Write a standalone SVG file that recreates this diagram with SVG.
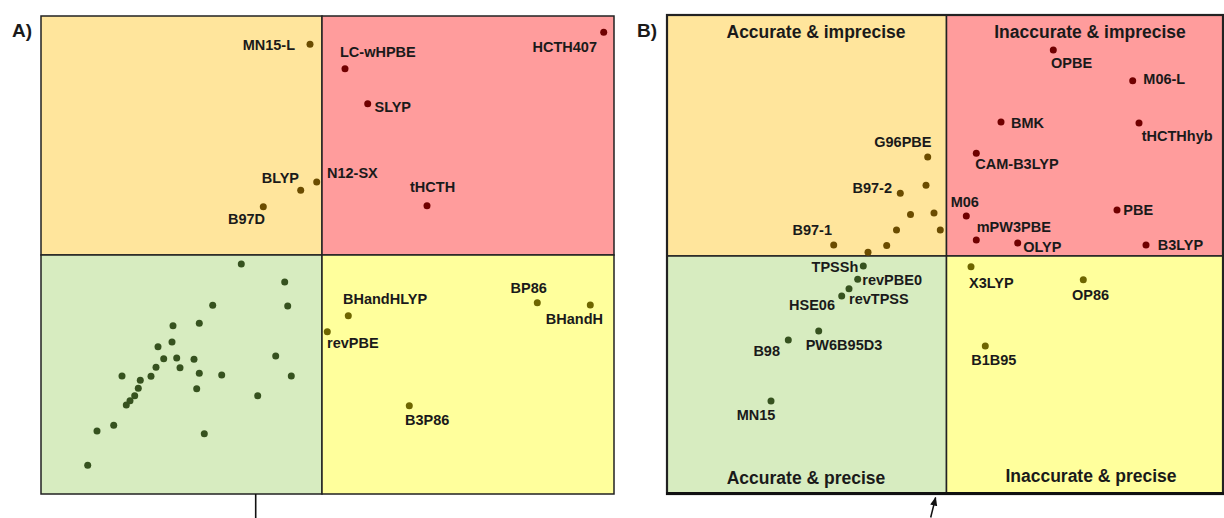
<svg xmlns="http://www.w3.org/2000/svg" width="1224" height="518" viewBox="0 0 1224 518">
<defs>
<style>
.t{font-family:"Liberation Sans",Arial,sans-serif;font-weight:bold;font-size:14.5px;fill:#1a1a1a}
.h{font-family:"Liberation Sans",Arial,sans-serif;font-weight:bold;font-size:17.5px;fill:#1a1a1a;text-anchor:middle}
.p{font-family:"Liberation Sans",Arial,sans-serif;font-weight:bold;font-size:19px;fill:#1a1a1a}
.e{text-anchor:end}
.o{fill:#6b4c00}
.r{fill:#700000}
.g{fill:#36521f}
.y{fill:#6e6600}
.q{stroke:#222;stroke-width:1.5}
</style>
<marker id="ah" viewBox="0 0 10 10" refX="9" refY="5" markerWidth="6" markerHeight="6" orient="auto">
<path d="M0,1 L10,5 L0,9 z" fill="#111"/>
</marker>
</defs>
<rect width="1224" height="518" fill="#fff"/>
<!-- Panel A -->
<g id="panelA">
<rect x="41" y="16" width="281" height="239" fill="#ffe59c" class="q"/>
<rect x="322" y="16" width="292" height="239" fill="#ff9c9c" class="q"/>
<rect x="41" y="255" width="281" height="239" fill="#d7ecc0" class="q"/>
<rect x="322" y="255" width="292" height="239" fill="#ffff9c" class="q"/>
<text class="p" x="12" y="37">A)</text>
</g>
<g id="A-MN15-L"><circle class="o" cx="310" cy="44.3" r="3.5"/><text class="t e" x="295" y="50">MN15-L</text></g>
<g id="A-BLYP"><circle class="o" cx="300.7" cy="190.3" r="3.5"/><text class="t e" x="299" y="183">BLYP</text></g>
<g id="A-N12-SX"><circle class="o" cx="316.7" cy="182" r="3.5"/><text class="t" x="327" y="178">N12-SX</text></g>
<g id="A-B97D"><circle class="o" cx="263.3" cy="206.7" r="3.5"/><text class="t" x="228" y="224">B97D</text></g>
<g id="A-HCTH407"><circle class="r" cx="603.7" cy="32.3" r="3.5"/><text class="t e" x="597" y="52">HCTH407</text></g>
<g id="A-LC-wHPBE"><circle class="r" cx="345" cy="68.7" r="3.5"/><text class="t" x="340" y="57">LC-wHPBE</text></g>
<g id="A-SLYP"><circle class="r" cx="367.7" cy="103.7" r="3.5"/><text class="t" x="374.5" y="112">SLYP</text></g>
<g id="A-tHCTH"><circle class="r" cx="427" cy="205.7" r="3.5"/><text class="t" x="410" y="192">tHCTH</text></g>
<g id="A-BHandHLYP"><circle class="y" cx="348.3" cy="315.7" r="3.5"/><text class="t" x="343" y="304">BHandHLYP</text></g>
<g id="A-revPBE"><circle class="y" cx="327.3" cy="331.7" r="3.5"/><text class="t" x="327" y="348">revPBE</text></g>
<g id="A-BP86"><circle class="y" cx="537.3" cy="302.7" r="3.5"/><text class="t" x="510.5" y="292.5">BP86</text></g>
<g id="A-BHandH"><circle class="y" cx="590.3" cy="305" r="3.5"/><text class="t e" x="603" y="324">BHandH</text></g>
<g id="A-B3P86"><circle class="y" cx="409.3" cy="405.7" r="3.5"/><text class="t" x="405" y="425">B3P86</text></g>
<g id="A-green-points" class="g">
<circle cx="241.3" cy="264" r="3.5"/><circle cx="284.7" cy="282" r="3.5"/><circle cx="212.7" cy="305.3" r="3.5"/>
<circle cx="287.7" cy="306" r="3.5"/><circle cx="173" cy="325.7" r="3.5"/><circle cx="199.3" cy="323.3" r="3.5"/>
<circle cx="172" cy="342" r="3.5"/><circle cx="158" cy="346.7" r="3.5"/><circle cx="163.7" cy="358.7" r="3.5"/>
<circle cx="176.7" cy="358" r="3.5"/><circle cx="194" cy="359.3" r="3.5"/><circle cx="156" cy="367.3" r="3.5"/>
<circle cx="180" cy="367.7" r="3.5"/><circle cx="275.7" cy="356" r="3.5"/><circle cx="122" cy="376" r="3.5"/>
<circle cx="151" cy="376.3" r="3.5"/><circle cx="140.3" cy="380.3" r="3.5"/><circle cx="199.3" cy="373.3" r="3.5"/>
<circle cx="221.7" cy="375" r="3.5"/><circle cx="291.3" cy="376" r="3.5"/><circle cx="138.3" cy="388.3" r="3.5"/>
<circle cx="196.7" cy="388.7" r="3.5"/><circle cx="134.7" cy="395.7" r="3.5"/><circle cx="130" cy="400.7" r="3.5"/>
<circle cx="126.3" cy="405" r="3.5"/><circle cx="257.7" cy="395.7" r="3.5"/><circle cx="113.7" cy="425.3" r="3.5"/>
<circle cx="97" cy="431" r="3.5"/><circle cx="204.3" cy="433.7" r="3.5"/><circle cx="87.7" cy="465.3" r="3.5"/>
</g>
<!-- Panel B -->
<g id="panelB">
<rect x="667" y="15" width="279.5" height="241" fill="#ffe59c" class="q"/>
<rect x="946.5" y="15" width="276.5" height="241" fill="#ff9c9c" class="q"/>
<rect x="667" y="256" width="279.5" height="238" fill="#d7ecc0" class="q"/>
<rect x="946.5" y="256" width="276.5" height="238" fill="#ffff9c" class="q"/>
<rect x="667" y="15" width="556" height="479" fill="none" stroke="#222" stroke-width="2.2"/>
<line x1="666" y1="493.5" x2="1224" y2="493.5" stroke="#111" stroke-width="3"/>
<text class="p" x="637" y="37">B)</text>
<text class="h" x="816" y="37.5">Accurate &amp; imprecise</text>
<text class="h" x="1090" y="37.5">Inaccurate &amp; imprecise</text>
<text class="h" x="806" y="484">Accurate &amp; precise</text>
<text class="h" x="1091" y="482">Inaccurate &amp; precise</text>
</g>
<g id="B-G96PBE"><circle class="o" cx="927.7" cy="157" r="3.5"/><text class="t e" x="931.5" y="146.7">G96PBE</text></g>
<g id="B-B97-2"><circle class="o" cx="900.3" cy="193.3" r="3.5"/><text class="t e" x="892" y="193">B97-2</text></g>
<g id="B-B97-1"><circle class="o" cx="833.7" cy="245" r="3.5"/><text class="t e" x="832" y="235">B97-1</text></g>
<g id="B-orange-points" class="o">
<circle cx="926" cy="185.3" r="3.5"/><circle cx="910.5" cy="214.5" r="3.5"/><circle cx="934" cy="213" r="3.5"/>
<circle cx="896.5" cy="230" r="3.5"/><circle cx="940.3" cy="230" r="3.5"/><circle cx="886.7" cy="245.5" r="3.5"/>
<circle cx="868" cy="252.3" r="3.5"/>
</g>
<g id="B-OPBE"><circle class="r" cx="1053.3" cy="50" r="3.5"/><text class="t" x="1051" y="68">OPBE</text></g>
<g id="B-M06-L"><circle class="r" cx="1132.7" cy="80.7" r="3.5"/><text class="t" x="1143.3" y="84">M06-L</text></g>
<g id="B-BMK"><circle class="r" cx="1001" cy="122" r="3.5"/><text class="t" x="1011" y="127.7">BMK</text></g>
<g id="B-tHCTHhyb"><circle class="r" cx="1139" cy="123" r="3.5"/><text class="t" x="1141.7" y="141">tHCTHhyb</text></g>
<g id="B-CAM-B3LYP"><circle class="r" cx="976.3" cy="153.3" r="3.5"/><text class="t" x="975.3" y="169.3">CAM-B3LYP</text></g>
<g id="B-M06"><circle class="r" cx="966.3" cy="216" r="3.5"/><text class="t" x="950.7" y="206.7">M06</text></g>
<g id="B-mPW3PBE"><circle class="r" cx="976.3" cy="240" r="3.5"/><text class="t" x="976.7" y="232.3">mPW3PBE</text></g>
<g id="B-OLYP"><circle class="r" cx="1017.7" cy="243" r="3.5"/><text class="t" x="1023.3" y="251.7">OLYP</text></g>
<g id="B-PBE"><circle class="r" cx="1117" cy="210" r="3.5"/><text class="t" x="1123.3" y="215">PBE</text></g>
<g id="B-B3LYP"><circle class="r" cx="1146" cy="245" r="3.5"/><text class="t" x="1157.7" y="250">B3LYP</text></g>
<g id="B-TPSSh"><circle class="g" cx="863.3" cy="266" r="3.5"/><text class="t e" x="858.3" y="271.7">TPSSh</text></g>
<g id="B-revPBE0"><circle class="g" cx="857.7" cy="279.3" r="3.5"/><text class="t" x="862.3" y="285">revPBE0</text></g>
<g id="B-revTPSS"><circle class="g" cx="849" cy="288.7" r="3.5"/><text class="t" x="849" y="304.3">revTPSS</text></g>
<g id="B-HSE06"><circle class="g" cx="841.7" cy="296" r="3.5"/><text class="t e" x="835" y="310">HSE06</text></g>
<g id="B-PW6B95D3"><circle class="g" cx="818.7" cy="331" r="3.5"/><text class="t" x="805.7" y="350">PW6B95D3</text></g>
<g id="B-B98"><circle class="g" cx="788.3" cy="340" r="3.5"/><text class="t e" x="780" y="356">B98</text></g>
<g id="B-MN15"><circle class="g" cx="771" cy="401" r="3.5"/><text class="t" x="736.7" y="420">MN15</text></g>
<g id="B-X3LYP"><circle class="y" cx="971" cy="266.7" r="3.5"/><text class="t" x="969" y="287.7">X3LYP</text></g>
<g id="B-OP86"><circle class="y" cx="1083.3" cy="279.7" r="3.5"/><text class="t" x="1072" y="300">OP86</text></g>
<g id="B-B1B95"><circle class="y" cx="985.3" cy="346" r="3.5"/><text class="t" x="971.3" y="365">B1B95</text></g>
<g id="connectors">
<line x1="255.7" y1="494" x2="255.7" y2="518" stroke="#111" stroke-width="1.6"/>
<line x1="930.7" y1="517.5" x2="935.6" y2="497.5" stroke="#111" stroke-width="1.5" marker-end="url(#ah)"/>
</g>
</svg>
